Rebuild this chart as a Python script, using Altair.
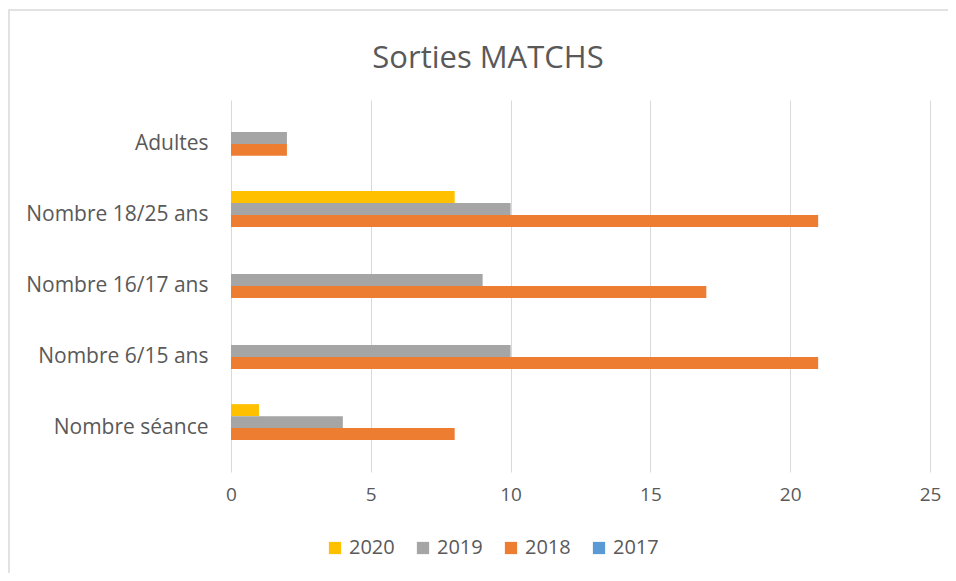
import altair as alt
import pandas as pd

categories = ["Adultes", "Nombre 18/25 ans", "Nombre 16/17 ans", "Nombre 6/15 ans", "Nombre séance"]
years = ["2020", "2019", "2018", "2017"]
values_2020 = [0, 8, 0, 0, 1]
values_2019 = [2, 10, 9, 10, 4]
values_2018 = [2, 21, 17, 21, 8]
values_2017 = [0, 0, 0, 0, 0]
colors = ["#FFC000", "#A5A5A5", "#ED7D31", "#5B9BD5"]
x_ticks = [0, 5, 10, 15, 20, 25]
title_text = "Sorties MATCHS"

rows = []
for yr, vals in zip(years, [values_2020, values_2019, values_2018, values_2017]):
    for c, v in zip(categories, vals):
        rows.append({"cat": c, "year": yr, "value": v})
df = pd.DataFrame(rows)

FONT = "Open Sans"
TXT = "#595959"

bars = alt.Chart(df).mark_bar().encode(
    y=alt.Y("cat:N", sort=categories, title=None,
            scale=alt.Scale(paddingInner=0.325, paddingOuter=0.28),
            axis=alt.Axis(domain=False, ticks=False, labelFont=FONT, labelFontSize=21,
                          labelColor=TXT, labelPadding=23, grid=False, labelLimit=400)),
    yOffset=alt.YOffset("year:N", sort=years),
    x=alt.X("value:Q", title=None,
            scale=alt.Scale(domain=[0, 25], nice=False),
            axis=alt.Axis(values=x_ticks, domain=False, ticks=False, labelFont=FONT,
                          labelFontSize=19, labelColor=TXT, labelPadding=13,
                          labelFlush=False,
                          gridColor="#D9D9D9", gridWidth=1)),
    color=alt.Color("year:N", sort=years,
                    scale=alt.Scale(domain=years, range=colors),
                    legend=alt.Legend(title=None, orient="none", direction="horizontal",
                                      legendX=94, legendY=438, symbolType="square",
                                      symbolSize=150, symbolStrokeWidth=0,
                                      labelFont=FONT, labelFontSize=20, labelColor=TXT,
                                      labelOffset=4, columnPadding=18, columns=4)),
)

border = alt.Chart(alt.Data(values=[{"a": 1}])).mark_rect(
    fill="transparent", stroke="#D9D9D9", strokeWidth=1.5
).encode(
    x=alt.value(-222), x2=alt.value(900), y=alt.value(-90), y2=alt.value(700)
)

title = alt.Chart(alt.Data(values=[{"t": title_text}])).mark_text(
    font=FONT, fontSize=31, color=TXT, align="center", baseline="middle"
).encode(
    text="t:N", x=alt.value(257), y=alt.value(-41)
)

chart = alt.layer(border, bars, title).properties(
    width=699, height=372,
    autosize=alt.AutoSizeParams(type="none"),
    padding={"left": 223, "top": 92, "right": 18, "bottom": 101},
).configure_view(stroke=None)

chart.save("out.html", embed_options={"renderer": "svg", "actions": False})
